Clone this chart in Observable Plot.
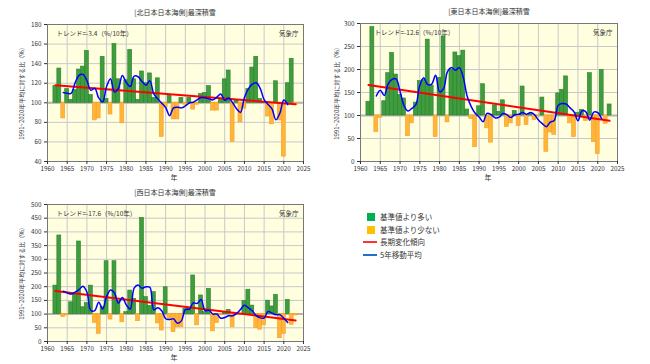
<!DOCTYPE html>
<html><head><meta charset="utf-8">
<script src="https://cdn.jsdelivr.net/npm/d3@7"></script>
<script src="https://cdn.jsdelivr.net/npm/@observablehq/plot@0.6"></script>
<style>
body{margin:0;background:#fff;font-family:"Noto Sans CJK JP",sans-serif;}
#wrap{position:relative;width:650px;height:364px;overflow:hidden;background:#fff;}
.abs{position:absolute;white-space:nowrap;color:#333;line-height:1;}
.title{font-size:7px;transform:translate(-50%,-50%);}
.ylab{font-size:6px;transform:translate(-50%,-50%) rotate(-90deg);}
.xlab{font-size:7px;transform:translate(-50%,-50%);}
.leg{font-size:7.5px;transform:translate(0,-50%);}
.sw{position:absolute;}
</style></head><body><div id="wrap"></div>
<script>
const years = [1962,1963,1964,1965,1966,1967,1968,1969,1970,1971,1972,1973,1974,1975,1976,1977,1978,1979,1980,1981,1982,1983,1984,1985,1986,1987,1988,1989,1990,1991,1992,1993,1994,1995,1996,1997,1998,1999,2000,2001,2002,2003,2004,2005,2006,2007,2008,2009,2010,2011,2012,2013,2014,2015,2016,2017,2018,2019,2020,2021,2022,2023];
const north = [117,135,84,114,103,113,134,137,153,108,82,84,147,104,88,160,124,79,123,154,124,103,132,120,130,105,125,65,95,108,83,83,105,98,105,93,98,109,110,117,92,92,104,124,133,60,103,80,94,114,136,147,104,101,86,78,122,82,45,120,145,98];
const east = [130,292,64,95,131,192,236,189,145,137,55,83,128,175,177,265,165,53,182,272,85,200,237,229,241,113,92,31,120,168,72,41,122,108,133,75,83,110,77,163,79,103,90,98,139,21,63,58,148,156,185,83,53,106,112,88,192,42,16,199,82,124];
const west = [204,387,89,95,143,173,365,125,140,204,68,28,125,293,80,293,149,70,107,186,156,74,451,162,130,180,66,40,198,77,34,52,52,119,119,241,59,168,107,192,37,67,97,108,115,52,96,98,148,189,131,49,43,59,149,128,170,12,28,152,61,95];
const titles = ["[北日本日本海側]最深積雪","[東日本日本海側]最深積雪","[西日本日本海側]最深積雪"];
const trendLabels = ["トレンド=-3.4（%/10年）","トレンド=-12.6（%/10年）","トレンド=-17.6（%/10年）"];
const xTicks = [1960,1965,1970,1975,1980,1985,1990,1995,2000,2005,2010,2015,2020,2025];
const yTicksNorth = [40,60,80,100,120,140,160,180];
const yTicksEast = [0,50,100,150,200,250,300];
const yTicksWest = [0,50,100,150,200,250,300,350,400,450,500];
const baseline = 100;
const source = "気象庁";
const yLabel = "1991~2020年平均に対する比（%）";
const xLabel = "年";
const legendLabels = ["基準値より多い","基準値より少ない","長期変化傾向","5年移動平均"];

const C = {green:"#3f9c3f", greenStroke:"#2a812a", orange:"#ffb43c", orangeStroke:"#f5a020",
  red:"#ff0000", blue:"#0000ff", bg:"#ffffe0", grid:"#c8c8c8", frame:"#777"};
const FONT = '"Noto Sans CJK JP", sans-serif';

const panels = [
  {vals:north, yTicks:yTicksNorth, left:0, top:0, width:325, height:180, mt:24, mb:19, ml:47, mr:22,
   title:[175,12], ylab:[22,92], xlab:[174,177], tdx:9},
  {vals:east, yTicks:yTicksEast, left:330, top:0, width:320, height:180, mt:23, mb:19, ml:30, mr:33,
   title:[489,11], ylab:[337,92], xlab:[488,177], tdx:14},
  {vals:west, yTicks:yTicksWest, left:0, top:180, width:325, height:184, mt:24, mb:23, ml:47, mr:22,
   title:[175,192], ylab:[22,272], xlab:[174,357], tdx:9}
];

const wrap = document.getElementById("wrap");
function addDiv(cls, text, x, y){
  const d = document.createElement("div");
  d.className = "abs " + cls; d.textContent = text;
  d.style.left = x + "px"; d.style.top = y + "px";
  wrap.appendChild(d); return d;
}

panels.forEach((p, i) => {
  const data = years.map((year, j) => ({year, v: p.vals[j]}));
  const yDom = [p.yTicks[0], p.yTicks[p.yTicks.length - 1]];
  const chart = Plot.plot({
    width: p.width, height: p.height,
    marginTop: p.mt, marginBottom: p.mb, marginLeft: p.ml, marginRight: p.mr,
    style: {fontSize: "6.3px", fontFamily: FONT, color: "#333", background: "transparent"},
    x: {domain: [xTicks[0], xTicks[xTicks.length - 1]]},
    y: {domain: yDom},
    marks: [
      Plot.frame({fill: C.bg}),
      Plot.gridX(xTicks, {stroke: C.grid, strokeOpacity: 1}),
      Plot.gridY(p.yTicks, {stroke: C.grid, strokeOpacity: 1}),
      Plot.ruleY([baseline], {stroke: "#b4b4b4", strokeWidth: 2}),
      Plot.rect(data, {
        x1: d => d.year - 0.5, x2: d => d.year + 0.5, y1: baseline, y2: "v",
        fill: d => d.v >= baseline ? C.green : C.orange,
        stroke: d => d.v >= baseline ? C.greenStroke : C.orangeStroke,
        strokeWidth: 0.6
      }),
      Plot.linearRegressionY(data, {x: "year", y: "v", stroke: C.red, strokeWidth: 2, ci: 0}),
      Plot.lineY(data, Plot.windowY({k: 5, strict: true}, {x: "year", y: "v", stroke: C.blue, strokeWidth: 1.5, curve: "catmull-rom"})),
      Plot.text([trendLabels[i]], {frameAnchor: "top-left", dx: p.tdx, dy: 7, fontSize: 6.5, fill: "#333", textAnchor: "start"}),
      Plot.text([source], {frameAnchor: "top-right", dx: -5, dy: 7, fontSize: 6.5, fill: "#333", textAnchor: "end"}),
      Plot.frame({stroke: C.frame}),
      Plot.axisX(xTicks, {tickFormat: d => String(d), tickSize: 3, tickPadding: 2.5, label: null}),
      Plot.axisY(p.yTicks, {tickSize: 3, tickPadding: 3, label: null})
    ]
  });
  chart.style.position = "absolute";
  chart.style.left = p.left + "px";
  chart.style.top = p.top + "px";
  wrap.appendChild(chart);
  addDiv("title", titles[i], p.title[0], p.title[1]);
  addDiv("ylab", yLabel, p.ylab[0], p.ylab[1]);
  addDiv("xlab", xLabel, p.xlab[0], p.xlab[1]);
});

// legend
const legColors = ["#00b050", "#ffc000", "#ff3333", "#2070d0"];
const legY = [217, 230, 242, 255];
legendLabels.forEach((lab, i) => {
  const s = document.createElement("div");
  s.className = "sw";
  if (i < 2) {
    s.style.left = "367px"; s.style.top = (legY[i] - 4) + "px";
    s.style.width = "8px"; s.style.height = "8px";
  } else {
    s.style.left = "363px"; s.style.top = (legY[i] - 1) + "px";
    s.style.width = "14px"; s.style.height = "2px";
  }
  s.style.background = legColors[i];
  wrap.appendChild(s);
  addDiv("leg", lab, 380, legY[i]);
});
</script></body></html>
